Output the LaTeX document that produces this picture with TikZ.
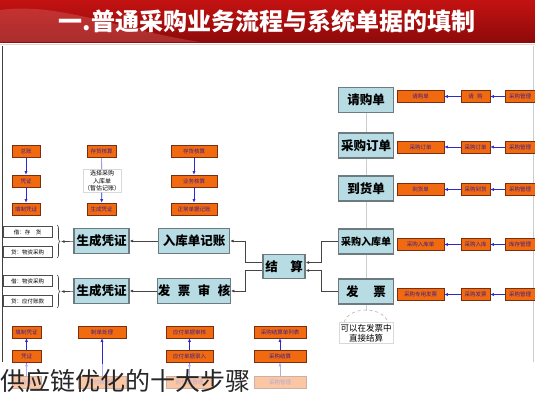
\documentclass[tikz,border=0pt]{standalone}
\usepackage{fontspec}
\newfontfamily\cjk{Noto Sans CJK SC}
\usetikzlibrary{arrows.meta,calc,decorations.pathreplacing}
\definecolor{orng}{HTML}{F26A0F}
\definecolor{obord}{HTML}{7A3010}
\definecolor{stxt}{HTML}{3B1F8F}
\definecolor{arrblue}{HTML}{2A2AD0}
\definecolor{boxblue}{HTML}{B7DCE4}
\definecolor{bgray}{HTML}{6D7B80}
\definecolor{conn}{HTML}{444444}
\definecolor{redA}{HTML}{C41212}
\definecolor{redB}{HTML}{8E0A0A}
\tikzset{
  big/.style={draw=bgray, line width=1.2pt, fill=boxblue, minimum height=25pt, inner sep=0pt,
    font=\cjk\bfseries\fontsize{12.5}{13}\selectfont},
  sm/.style={draw=obord, line width=0.6pt, fill=orng, minimum height=12pt, inner sep=0.5pt,
    text=stxt, font=\cjk\fontsize{5.5}{6}\selectfont},
  wbox/.style={draw=black!70, line width=0.5pt, fill=white, minimum width=49pt, minimum height=11pt,
    inner sep=0.5pt, font=\cjk\fontsize{5.5}{6}\selectfont},
  barr/.style={draw=arrblue, line width=0.6pt, -{Latex[length=3.5pt,width=3pt]}},
  bline/.style={draw=arrblue!70, line width=0.6pt},
  carr/.style={draw=conn, line width=0.7pt, -{Latex[length=3.5pt,width=3pt]}},
  vlink/.style={draw=black!20, line width=0.8pt}
}
\begin{document}
\begin{tikzpicture}[x=1pt,y=-1pt]
\useasboundingbox (0,0) rectangle (535,400);
\fill[white] (0,0) rectangle (535,400);
% title band
\shade[top color=redA, bottom color=redB] (0,0) rectangle (535,42);
\fill[redA!60!white, opacity=0.35] (0,10) .. controls (60,2) and (120,30) .. (200,42) -- (0,42) -- cycle;
\node[text=white, font=\cjk\bfseries\fontsize{24}{24}\selectfont] (title) at (267,21) {一.普通采购业务流程与系统单据的填制};
\draw[black!15, line width=0.8pt] (0,44) -- (535,44);
% frame lines
\draw[black!75, line width=1pt] (2,46) -- (2,362);
\draw[black!20, line width=0.8pt] (533,46) -- (533,362);

% right column main boxes
\node[big, minimum width=55pt] (qg) at (366,100) {请购单};
\node[big, minimum width=55pt] (cg) at (366,145.5) {采购订单};
\node[big, minimum width=55pt] (dh) at (366,188.5) {到货单};
\node[big, minimum width=55pt, font=\cjk\bfseries\fontsize{10}{11}\selectfont] (rk) at (366,241.5) {采购入库单};
\node[big, minimum width=55pt] (fp) at (366,291.5) {发\hspace{1.2em}票};
\draw[vlink] (qg) -- (cg);
\draw[vlink] (cg) -- (dh);
\draw[vlink] (dh) -- (rk);
\draw[vlink] (rk) -- (fp);
\node[draw=black!15, fill=white, align=center, inner sep=1.5pt, font=\cjk\fontsize{8.5}{10}\selectfont] (note) at (366,333) {可以在发票中\\直接结算};
\coordinate (arctop) at (366,311);
\draw[vlink] (fp) -- (arctop);
\draw[black!30, dashed, line width=0.6pt] (344,322) .. controls (350,306) and (382,306) .. (388,322);

% right small boxes
\foreach \n/\y/\a/\b/\c in {1/96.5/请购单/请\hspace{0.6em}购/采购管理,2/147/采购订单/采购订单/采购管理,3/189.5/到货单/采购到货/采购管理,4/244.5/采购入库单/采购入库/库存管理,5/294.5/采购专用发票/采购发票/采购管理}{
  \node[sm, minimum width=47pt] (r\n a) at (420.5,\y) {\a};
  \node[sm, minimum width=29pt] (r\n b) at (475.5,\y) {\b};
  \node[sm, minimum width=30pt] (r\n c) at (520,\y) {\c};
  \draw[barr] (r\n c) -- (r\n b);
  \draw[barr] (r\n b) -- (r\n a);
}

% settlement
\node[big, minimum width=42pt, minimum height=24pt] (js) at (284,266.5) {结\hspace{1em}算};
\draw[carr] (rk.west) -- (321,241.5) |- ($(js.east)+(0,-4)$);
\draw[carr] (fp.west) -- (321,291.5) |- ($(js.east)+(0,4)$);

% middle-left boxes
\node[big, minimum width=71pt] (rkjz) at (194,241) {入库单记账};
\node[big, minimum width=71pt] (fpsh) at (194,291) {发\hspace{0.6em}票\hspace{0.6em}审\hspace{0.6em}核};
\node[big, minimum width=55pt] (pz1) at (101.5,241) {生成凭证};
\node[big, minimum width=55pt] (pz2) at (101.5,291) {生成凭证};
\draw[carr] ($(js.west)+(0,-4)$) -| (245,241) -- (rkjz.east);
\draw[carr] ($(js.west)+(0,4)$) -| (245,291) -- (fpsh.east);
\draw[carr] (rkjz) -- (pz1);
\draw[carr] (fpsh) -- (pz2);

% braces and entries
\draw[conn, line width=0.6pt, decorate, decoration={brace, amplitude=3pt}] (57,225) -- (57,258);
\draw[conn, line width=0.6pt, decorate, decoration={brace, amplitude=3pt}] (57,275) -- (57,308);
\coordinate (b1) at (61,241.5);
\coordinate (b2) at (61,291.5);
\draw[carr] (pz1) -- (b1);
\draw[carr] (pz2) -- (b2);
\node[wbox] (w1) at (27.5,232) {借：存\hspace{1em}货};
\node[wbox] (w2) at (27.5,252) {贷：物资采购};
\node[wbox] (w3) at (27.5,281) {借：物资采购};
\node[wbox] (w4) at (27.5,301) {贷：应付账款};

% top-left groups
\node[sm, minimum width=28pt] (t1a) at (26,151.5) {总账};
\node[sm, minimum width=28pt] (t1b) at (26,181) {凭证};
\node[sm, minimum width=28pt] (t1c) at (26,209) {填制凭证};
\draw[barr] (t1a) -- (t1b);
\draw[barr] (t1b) -- (t1c);
\node[sm, minimum width=29pt] (t2a) at (101.5,151.5) {存货核算};
\node[draw=black!15, fill=white, align=center, inner sep=1pt, font=\cjk\fontsize{6}{7.5}\selectfont] (t2n) at (102,181) {选择采购\\入库单\\（暂估记账）};
\node[sm, minimum width=29pt] (t2c) at (101.5,209) {生成凭证};
\draw[bline] (t2a) -- (t2n);
\draw[barr] (t2n) -- (t2c);
\node[sm, minimum width=46pt] (t3a) at (194,151.5) {存货核算};
\node[sm, minimum width=46pt] (t3b) at (194,181) {业务核算};
\node[sm, minimum width=46pt] (t3c) at (194,209) {正常单据记账};
\draw[barr] (t3a) -- (t3b);
\draw[barr] (t3b) -- (t3c);

% bottom groups
\node[sm, minimum width=29pt] (u1a) at (26.5,332) {填制凭证};
\node[sm, minimum width=29pt] (u1b) at (26.5,356.5) {凭证};
\node[sm, minimum width=29pt] (u1c) at (26.5,382) {总账};
\node[sm, minimum width=48pt] (u2a) at (102,332) {制单处理};
\node[sm, minimum width=48pt] (u2c) at (102,382) {应付款管理};
\node[sm, minimum width=47pt] (u3a) at (189.5,332) {应付单据审核};
\node[sm, minimum width=47pt] (u3b) at (189.5,356.5) {应付单据录入};
\node[sm, minimum width=47pt] (u3c) at (189.5,382) {应付款管理};
\node[sm, minimum width=52pt] (u4a) at (280,332) {采购结算单列表};
\node[sm, minimum width=52pt] (u4b) at (280,356.5) {采购结算};
\node[sm, minimum width=52pt] (u4c) at (280,382) {采购管理};
\draw[barr] (u1b) -- (u1a);
\draw[barr] (u1c) -- (u1b);
\draw[barr] (u2c) -- (u2a);
\draw[barr] (u3b) -- (u3a);
\draw[barr] (u3c) -- (u3b);
\draw[barr] (u4b) -- (u4a);
\draw[barr] (u4c) -- (u4b);

% fading band and overlay caption
\fill[white, opacity=0.62] (0,364) rectangle (535,400);
\node[anchor=west, inner sep=0pt, text=black!85, font=\cjk\fontsize{25}{25}\selectfont] (cap) at (0,381) {供应链优化的十大步骤};
\end{tikzpicture}
\end{document}
